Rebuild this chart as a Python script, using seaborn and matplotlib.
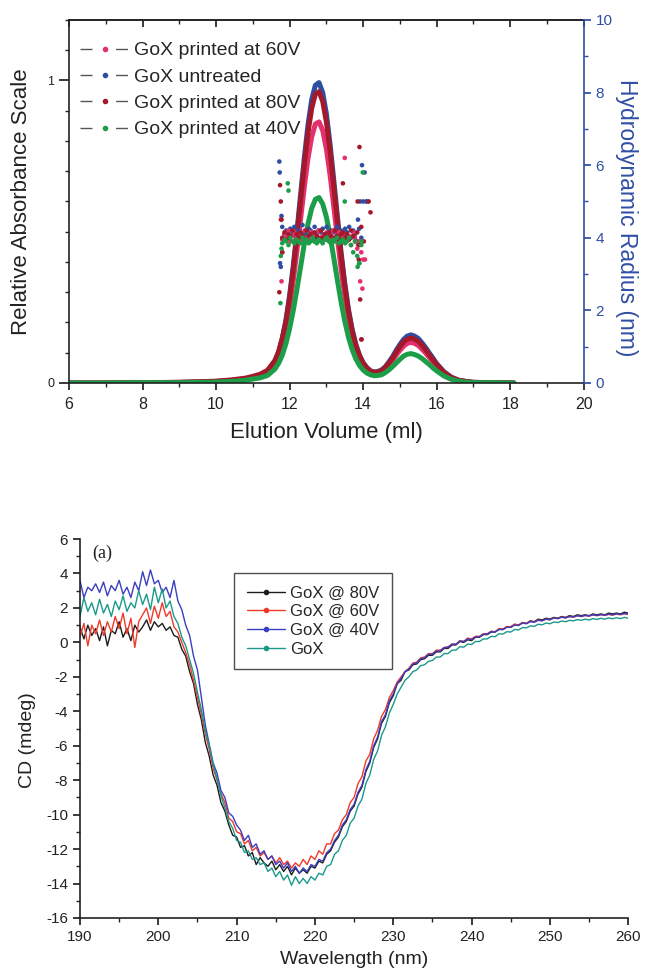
import numpy as np
import pandas as pd
import seaborn as sns
import matplotlib
matplotlib.use("Agg")
import matplotlib.pyplot as plt
from matplotlib.lines import Line2D
from matplotlib.ticker import MultipleLocator, FixedLocator

sns.set_theme(style="ticks")
plt.rcParams["font.family"] = ["Liberation Sans", "DejaVu Sans"]
plt.rcParams["axes.unicode_minus"] = False

# ---------------- top panel: SEC elution profiles ----------------
elution_ml = [6.0, 7.0, 8.0, 9.0, 9.5, 10.0, 10.4, 10.8, 11.0, 11.2, 11.4, 11.6,
              11.7, 11.8, 11.9, 12.0, 12.1, 12.2, 12.3, 12.4, 12.5, 12.6, 12.7, 12.8,
              12.9, 13.0, 13.1, 13.2, 13.3, 13.4, 13.5, 13.6, 13.7, 13.8, 13.9, 14.0,
              14.1, 14.2, 14.3, 14.4, 14.5, 14.6, 14.7, 14.8, 14.9, 15.0, 15.1, 15.2,
              15.3, 15.4, 15.5, 15.6, 15.7, 15.8, 15.9, 16.0, 16.2, 16.4, 16.6, 16.8,
              17.0, 17.5, 18.1]
abs_untreated = [0.000, 0.000, 0.001, 0.002, 0.003, 0.005, 0.008, 0.013, 0.018, 0.025, 0.039, 0.072,
                 0.102, 0.147, 0.208, 0.289, 0.388, 0.502, 0.624, 0.744, 0.853, 0.936, 0.984, 0.993,
                 0.960, 0.890, 0.790, 0.672, 0.550, 0.432, 0.330, 0.244, 0.178, 0.128, 0.092, 0.067,
                 0.051, 0.040, 0.036, 0.038, 0.043, 0.053, 0.069, 0.087, 0.108, 0.127, 0.144, 0.155,
                 0.159, 0.155, 0.147, 0.133, 0.117, 0.099, 0.082, 0.064, 0.037, 0.019, 0.009, 0.005,
                 0.002, 0.001, 0.000]
abs_60v = [0.000, 0.000, 0.001, 0.002, 0.003, 0.005, 0.008, 0.013, 0.018, 0.024, 0.036, 0.065,
           0.091, 0.130, 0.183, 0.253, 0.339, 0.437, 0.543, 0.648, 0.742, 0.813, 0.856, 0.863,
           0.835, 0.774, 0.688, 0.585, 0.480, 0.377, 0.289, 0.214, 0.157, 0.114, 0.082, 0.061,
           0.046, 0.037, 0.034, 0.034, 0.038, 0.047, 0.060, 0.075, 0.092, 0.108, 0.122, 0.131,
           0.134, 0.131, 0.124, 0.112, 0.099, 0.084, 0.069, 0.055, 0.032, 0.017, 0.008, 0.004,
           0.002, 0.001, 0.000]
abs_80v = [0.000, 0.000, 0.001, 0.002, 0.004, 0.006, 0.010, 0.016, 0.022, 0.029, 0.042, 0.074,
           0.103, 0.147, 0.202, 0.281, 0.376, 0.487, 0.605, 0.722, 0.827, 0.907, 0.955, 0.963,
           0.931, 0.863, 0.767, 0.652, 0.534, 0.420, 0.321, 0.237, 0.173, 0.125, 0.090, 0.065,
           0.050, 0.039, 0.036, 0.036, 0.041, 0.051, 0.066, 0.082, 0.102, 0.120, 0.136, 0.145,
           0.149, 0.145, 0.138, 0.125, 0.110, 0.093, 0.077, 0.061, 0.035, 0.018, 0.009, 0.005,
           0.002, 0.001, 0.000]
abs_40v = [0.000, 0.000, 0.001, 0.001, 0.002, 0.003, 0.005, 0.009, 0.013, 0.017, 0.025, 0.046,
           0.065, 0.092, 0.130, 0.180, 0.240, 0.310, 0.385, 0.460, 0.526, 0.577, 0.607, 0.613,
           0.592, 0.549, 0.488, 0.415, 0.340, 0.268, 0.205, 0.152, 0.111, 0.080, 0.058, 0.043,
           0.033, 0.027, 0.024, 0.025, 0.027, 0.034, 0.043, 0.054, 0.066, 0.078, 0.089, 0.095,
           0.097, 0.094, 0.089, 0.081, 0.071, 0.061, 0.050, 0.040, 0.023, 0.012, 0.006, 0.003,
           0.001, 0.001, 0.000]

# hydrodynamic radius (right axis): dense band over the main peak + scattered points
radius_band_ml = [11.80, 11.86, 11.91, 11.97, 12.02, 12.08, 12.13, 12.19, 12.24, 12.30,
                  12.35, 12.41, 12.46, 12.52, 12.57, 12.63, 12.68, 12.74, 12.79, 12.85,
                  12.90, 12.96, 13.01, 13.07, 13.12, 13.18, 13.23, 13.29, 13.34, 13.40,
                  13.45, 13.51, 13.56, 13.62, 13.67, 13.73, 13.78, 13.84, 13.89, 13.95]
rh_band_untreated = [4.3, 4.1, 4.2, 4.0, 4.25, 4.15, 4.3, 4.05, 4.2, 4.1, 4.35, 4.15, 4.05, 4.25,
                     4.2, 4.1, 4.3, 4.0, 4.2, 4.15, 4.25, 4.1, 4.3, 4.05, 4.2, 4.15, 4.0, 4.3,
                     4.1, 4.2, 4.05, 4.25, 4.15, 4.3, 4.0, 4.2, 4.1, 3.9, 4.25, 4.0]
rh_band_80v = [4.0, 4.15, 3.95, 4.1, 4.05, 4.2, 3.9, 4.1, 4.0, 4.15, 4.05, 3.95, 4.2, 4.05,
               4.1, 3.95, 4.15, 4.05, 4.0, 4.2, 4.0, 4.1, 3.95, 4.15, 4.05, 4.0, 4.2, 4.05,
               3.95, 4.1, 4.15, 4.0, 4.1, 3.95, 4.2, 4.05, 3.9, 4.15, 3.8, 4.3]
rh_band_60v = [3.95, 4.1, 4.0, 4.2, 3.9, 4.05, 4.15, 4.0, 4.1, 3.95, 4.05, 4.2, 4.0, 3.95,
               4.15, 4.05, 3.9, 4.1, 4.2, 4.0, 4.05, 3.95, 4.15, 4.0, 4.1, 4.2, 3.95, 4.05,
               4.15, 3.9, 4.0, 4.1, 3.95, 4.05, 3.8, 4.15, 4.0, 3.7, 3.9, 3.6]
rh_band_40v = [3.85, 3.95, 3.9, 3.8, 4.0, 3.9, 3.85, 3.95, 3.9, 3.85, 4.0, 3.9, 3.95, 3.85,
               3.9, 4.0, 3.9, 3.85, 3.95, 3.9, 3.85, 3.95, 4.0, 3.9, 3.85, 3.95, 3.9, 4.0,
               3.85, 3.9, 3.95, 3.85, 3.9, 4.0, 3.8, 3.6, 3.9, 3.5, 3.3, 3.8]
rh_out_ml_untreated = [11.72, 11.73, 11.74, 11.76, 11.78, 13.86, 13.92, 13.97, 14.00, 14.04, 14.08, 14.12]
rh_out_untreated = [6.1, 5.8, 3.3, 3.2, 4.6, 4.5, 5.0, 6.0, 5.0, 5.8, 5.0, 5.0]
rh_out_ml_80v = [11.72, 11.74, 11.76, 11.78, 11.80, 13.45, 13.88, 13.90, 13.92, 13.95, 13.85, 14.02, 14.15, 14.20]
rh_out_80v = [2.5, 5.45, 5.0, 4.5, 3.6, 5.5, 3.4, 6.5, 2.3, 1.2, 5.0, 3.9, 5.0, 4.7]
rh_out_ml_60v = [11.76, 11.78, 11.80, 13.50, 13.86, 13.92, 13.96, 13.98, 14.00, 14.05]
rh_out_60v = [4.5, 2.8, 3.6, 6.2, 3.8, 2.8, 1.2, 2.6, 3.4, 3.4]
rh_out_ml_40v = [11.75, 11.76, 11.78, 11.95, 11.97, 13.50, 13.85, 13.90, 13.95, 13.99]
rh_out_40v = [2.2, 3.5, 3.7, 5.5, 5.3, 5.0, 3.2, 3.3, 3.9, 5.8]

top_labels = ["GoX printed at 60V", "GoX untreated", "GoX printed at 80V", "GoX printed at 40V"]
top_colors = {"GoX printed at 60V": "#e5306e", "GoX untreated": "#2d4ea3",
              "GoX printed at 80V": "#a3192a", "GoX printed at 40V": "#1c9e49"}
draw_order = ["GoX untreated", "GoX printed at 60V", "GoX printed at 80V", "GoX printed at 40V"]

# ---------------- bottom panel: CD spectra ----------------
wavelength_nm = np.arange(190.0, 260.01, 0.5)
cd_80v = [0.9, 0.2, 1.0, 0.4, 0.8, 0.1, 0.9, -0.2, 0.7, 0.5,
          1.2, 0.3, 0.8, 0.1, 1.0, 0.6, 0.9, 1.3, 0.7, 1.2,
          0.9, 1.1, 0.7, 0.9, 0.4, 0.3, -0.4, -0.8, -1.7, -2.4,
          -3.6, -4.5, -5.8, -6.6, -7.7, -8.3, -9.3, -9.8, -10.6, -11.2,
          -11.3, -11.9, -11.8, -12.4, -12.2, -12.9, -12.5, -12.8, -13.0, -12.7,
          -13.2, -12.9, -13.3, -13.0, -13.5, -13.1, -13.4, -13.2, -13.4, -13.0,
          -13.1, -12.7, -12.8, -12.3, -12.1, -11.6, -11.3, -10.7, -10.4, -9.8,
          -9.5, -8.8, -8.4, -7.5, -7.0, -6.1, -5.6, -4.7, -4.3, -3.5,
          -3.1, -2.4, -2.2, -1.7, -1.6, -1.3, -1.25, -1.0, -0.95, -0.75,
          -0.75, -0.55, -0.55, -0.35, -0.35, -0.15, -0.15, 0.05, 0.0, 0.15,
          0.1, 0.3, 0.3, 0.45, 0.45, 0.6, 0.6, 0.75, 0.75, 0.9,
          0.9, 1.05, 1.0, 1.15, 1.1, 1.25, 1.2, 1.35, 1.3, 1.4,
          1.35, 1.45, 1.4, 1.5, 1.45, 1.55, 1.5, 1.6, 1.55, 1.6,
          1.55, 1.65, 1.6, 1.65, 1.6, 1.7, 1.65, 1.7, 1.65, 1.75,
          1.7]
cd_60v = [0.3, 1.1, -0.2, 1.0, 0.5, 1.3, 0.4, 1.2, 0.6, 1.5,
          0.8, 1.7, 0.5, 1.4, -0.3, 1.2, 1.6, 2.0, 1.1, 2.1,
          1.4, 2.3, 1.5, 1.8, 0.9, 0.6, 0.0, -0.6, -1.3, -2.2,
          -3.2, -4.2, -5.3, -6.2, -7.3, -8.0, -8.8, -9.3, -10.2, -10.4,
          -11.0, -11.1, -11.7, -11.5, -12.1, -11.9, -12.4, -12.2, -12.6, -12.4,
          -12.8, -12.5, -12.9, -12.7, -13.1, -12.8, -13.0, -12.6, -12.9, -12.4,
          -12.6, -12.1, -12.3, -11.7, -11.7, -11.1, -10.9, -10.3, -10.0, -9.3,
          -9.0, -8.2, -7.8, -6.9, -6.5, -5.6, -5.1, -4.3, -3.9, -3.2,
          -2.8, -2.3, -2.0, -1.7, -1.5, -1.2, -1.15, -0.9, -0.85, -0.65,
          -0.65, -0.45, -0.45, -0.3, -0.25, -0.1, -0.1, 0.1, 0.05, 0.25,
          0.2, 0.35, 0.35, 0.5, 0.5, 0.65, 0.62, 0.8, 0.78, 0.92,
          0.9, 1.05, 1.0, 1.15, 1.1, 1.22, 1.18, 1.3, 1.25, 1.35,
          1.3, 1.42, 1.38, 1.47, 1.42, 1.5, 1.46, 1.55, 1.5, 1.56,
          1.52, 1.6, 1.55, 1.6, 1.56, 1.62, 1.58, 1.64, 1.6, 1.66,
          1.62]
cd_40v = [3.6, 2.6, 3.2, 3.0, 3.4, 2.9, 3.5, 2.7, 3.3, 3.0,
          3.6, 2.8, 3.2, 2.6, 3.5, 3.0, 4.1, 3.3, 4.2, 3.4,
          3.6, 2.9, 3.2, 2.6, 3.6, 2.4, 1.9, 1.0, 0.4, -0.8,
          -1.6, -3.2, -4.8, -5.9, -7.0, -7.6, -8.6, -9.0, -9.9, -10.1,
          -10.6, -10.9, -11.5, -11.2, -11.9, -11.7, -12.3, -12.1, -12.6, -12.4,
          -12.9, -12.7, -13.1, -12.8, -13.3, -13.0, -13.4, -13.1, -13.3, -12.9,
          -13.0, -12.6, -12.7, -12.2, -12.0, -11.5, -11.2, -10.6, -10.3, -9.7,
          -9.4, -8.7, -8.3, -7.4, -6.9, -6.0, -5.5, -4.6, -4.2, -3.4,
          -3.0, -2.4, -2.1, -1.7, -1.55, -1.25, -1.2, -0.95, -0.9, -0.7,
          -0.7, -0.5, -0.5, -0.3, -0.3, -0.1, -0.12, 0.08, 0.05, 0.2,
          0.15, 0.32, 0.32, 0.48, 0.47, 0.62, 0.6, 0.76, 0.74, 0.88,
          0.87, 1.0, 0.98, 1.12, 1.08, 1.2, 1.17, 1.28, 1.25, 1.35,
          1.32, 1.42, 1.38, 1.46, 1.42, 1.5, 1.47, 1.55, 1.5, 1.57,
          1.53, 1.6, 1.56, 1.62, 1.58, 1.64, 1.6, 1.66, 1.62, 1.68,
          1.65]
cd_gox = [1.5, 2.6, 1.8, 2.3, 1.6, 2.5, 1.7, 2.2, 1.5, 2.4,
          1.9, 2.7, 1.8, 2.3, 2.0, 3.0, 2.2, 2.8, 1.9, 3.2,
          2.3, 3.1, 2.0, 2.4, 1.5, 1.1, 0.3, -0.2, -1.0, -1.8,
          -2.9, -3.9, -5.1, -6.0, -7.1, -7.9, -8.9, -9.6, -10.4, -10.8,
          -11.5, -11.6, -12.2, -12.1, -12.6, -12.5, -12.9, -12.8, -13.3, -13.1,
          -13.6, -13.3, -13.8, -13.5, -14.1, -13.6, -14.0, -13.7, -14.0, -13.6,
          -13.8, -13.4, -13.5, -13.0, -12.9, -12.3, -12.1, -11.5, -11.2, -10.5,
          -10.2, -9.5, -9.1, -8.2, -7.7, -6.8, -6.3, -5.4, -4.9, -4.1,
          -3.6, -3.0, -2.6, -2.2, -2.0, -1.7, -1.6, -1.35, -1.3, -1.1,
          -1.05, -0.85, -0.85, -0.65, -0.65, -0.45, -0.45, -0.25, -0.28, -0.1,
          -0.12, 0.05, 0.05, 0.2, 0.2, 0.35, 0.33, 0.5, 0.48, 0.62,
          0.6, 0.75, 0.72, 0.86, 0.84, 0.96, 0.93, 1.05, 1.02, 1.12,
          1.08, 1.18, 1.15, 1.24, 1.2, 1.28, 1.25, 1.32, 1.28, 1.35,
          1.3, 1.38, 1.33, 1.4, 1.35, 1.42, 1.37, 1.43, 1.38, 1.45,
          1.4]
cd_labels = ["GoX @ 80V", "GoX @ 60V", "GoX @ 40V", "GoX"]
cd_colors = {"GoX @ 80V": "#1c1c1c", "GoX @ 60V": "#f0392b",
             "GoX @ 40V": "#3b3ec0", "GoX": "#1a998b"}

# ---------------- tidy frames ----------------
top_df = pd.concat([
    pd.DataFrame({"ml": elution_ml, "abs": abs_untreated, "sample": "GoX untreated"}),
    pd.DataFrame({"ml": elution_ml, "abs": abs_60v, "sample": "GoX printed at 60V"}),
    pd.DataFrame({"ml": elution_ml, "abs": abs_80v, "sample": "GoX printed at 80V"}),
    pd.DataFrame({"ml": elution_ml, "abs": abs_40v, "sample": "GoX printed at 40V"}),
], ignore_index=True)

rh_df = pd.concat([
    pd.DataFrame({"ml": radius_band_ml + rh_out_ml_untreated, "rh": rh_band_untreated + rh_out_untreated, "sample": "GoX untreated"}),
    pd.DataFrame({"ml": radius_band_ml + rh_out_ml_60v, "rh": rh_band_60v + rh_out_60v, "sample": "GoX printed at 60V"}),
    pd.DataFrame({"ml": radius_band_ml + rh_out_ml_80v, "rh": rh_band_80v + rh_out_80v, "sample": "GoX printed at 80V"}),
    pd.DataFrame({"ml": radius_band_ml + rh_out_ml_40v, "rh": rh_band_40v + rh_out_40v, "sample": "GoX printed at 40V"}),
], ignore_index=True)

cd_df = pd.concat([
    pd.DataFrame({"nm": wavelength_nm, "cd": cd_80v, "sample": "GoX @ 80V"}),
    pd.DataFrame({"nm": wavelength_nm, "cd": cd_60v, "sample": "GoX @ 60V"}),
    pd.DataFrame({"nm": wavelength_nm, "cd": cd_40v, "sample": "GoX @ 40V"}),
    pd.DataFrame({"nm": wavelength_nm, "cd": cd_gox, "sample": "GoX"}),
], ignore_index=True)

fig = plt.figure(figsize=(6.45, 9.74), dpi=100)
fig.patch.set_facecolor("white")
ink = "#222222"

# ================= top panel =================
ax1 = fig.add_axes([0.107, 0.6068, 0.798, 0.3727])
sns.lineplot(data=top_df, x="ml", y="abs", hue="sample", hue_order=draw_order,
             palette=top_colors, lw=3.6, legend=False, ax=ax1, sort=False)
ax1.set_xlim(6, 20)
ax1.set_ylim(0, 1.2)
ax1.xaxis.set_major_locator(MultipleLocator(2))
ax1.xaxis.set_minor_locator(MultipleLocator(1))
ax1.yaxis.set_major_locator(FixedLocator([0, 1]))
ax1.yaxis.set_minor_locator(MultipleLocator(0.1))
ax1.tick_params(axis="x", which="both", direction="out", labelsize=11.5, colors=ink, pad=5)
ax1.tick_params(axis="x", which="major", length=5)
ax1.tick_params(axis="x", which="minor", length=3)
ax1.tick_params(axis="y", which="major", direction="out", length=7, labelsize=9, colors=ink)
ax1.tick_params(axis="y", which="minor", direction="out", length=3)
ax1.set_xlabel("Elution Volume (ml)", fontsize=16, color=ink)
ax1.set_ylabel("Relative Absorbance Scale", fontsize=16, color=ink)
ax1.xaxis.set_label_coords(0.5, -0.107)
ax1.yaxis.set_label_coords(-0.072, 0.5)
for side in ["left", "bottom", "top"]:
    ax1.spines[side].set_color(ink)
    ax1.spines[side].set_linewidth(1.2)
ax1.spines["right"].set_visible(False)

top_sec = ax1.secondary_xaxis("top")
top_sec.xaxis.set_major_locator(MultipleLocator(2))
top_sec.xaxis.set_minor_locator(MultipleLocator(1))
top_sec.tick_params(axis="x", which="both", direction="in", labeltop=False, colors=ink)
top_sec.tick_params(axis="x", which="major", length=5)
top_sec.tick_params(axis="x", which="minor", length=3)
top_sec.spines["top"].set_linewidth(1.2)

ax2 = ax1.twinx()
sns.scatterplot(data=rh_df, x="ml", y="rh", hue="sample", hue_order=draw_order,
                palette=top_colors, s=11, linewidth=0, legend=False, ax=ax2)
ax2.set_ylim(0, 10)
ax2.yaxis.set_major_locator(MultipleLocator(2))
ax2.yaxis.set_minor_locator(MultipleLocator(1))
blue = "#2f4ea5"
ax2.tick_params(axis="y", which="both", direction="out", colors=blue, labelsize=11)
ax2.tick_params(axis="y", which="major", length=5)
ax2.tick_params(axis="y", which="minor", length=3)
ax2.set_ylabel("Hydrodynamic Radius (nm)", fontsize=16.5, color=blue, rotation=270)
ax2.yaxis.set_label_coords(1.106, 0.455)
for side in ["left", "bottom", "top"]:
    ax2.spines[side].set_visible(False)
ax2.spines["right"].set_color(blue)
ax2.spines["right"].set_linewidth(1.2)

handles = [Line2D([0], [0], color="#555555", lw=1.0, linestyle=(0, (8.6, 17)),
                  marker="o", markersize=3, markerfacecolor=top_colors[lab],
                  markeredgecolor=top_colors[lab]) for lab in top_labels]
ax1.legend(handles, top_labels, loc="upper left", bbox_to_anchor=(0.021, 0.94),
           frameon=False, fontsize=14, handlelength=2.6, handletextpad=0.2,
           labelspacing=0.45, borderaxespad=0, borderpad=0, numpoints=1)

# ================= bottom panel =================
ax3 = fig.add_axes([0.124, 0.0575, 0.850, 0.3891])
sns.lineplot(data=cd_df, x="nm", y="cd", hue="sample", hue_order=cd_labels,
             palette=cd_colors, lw=1.0, legend=False, ax=ax3, sort=False)
ax3.set_xlim(190, 260)
ax3.set_ylim(-16, 6)
ax3.xaxis.set_major_locator(MultipleLocator(10))
ax3.xaxis.set_minor_locator(MultipleLocator(5))
ax3.yaxis.set_major_locator(MultipleLocator(2))
ax3.yaxis.set_minor_locator(MultipleLocator(1))
ax3.tick_params(which="both", direction="out", labelsize=11, colors=ink)
ax3.tick_params(which="major", length=5)
ax3.tick_params(which="minor", length=3)
sns.despine(ax=ax3)
for side in ["left", "bottom"]:
    ax3.spines[side].set_color(ink)
    ax3.spines[side].set_linewidth(1.2)
ax3.set_xlabel("Wavelength (nm)", fontsize=14, color=ink)
ax3.set_ylabel("CD (mdeg)", fontsize=14, color=ink)
ax3.xaxis.set_label_coords(0.5, -0.088)
ax3.yaxis.set_label_coords(-0.080, 0.47)
ax3.text(0.022, 0.963, "(a)", transform=ax3.transAxes, fontsize=13,
         family=["Liberation Serif", "DejaVu Serif"], va="center", ha="left", color=ink)

cd_handles = [Line2D([0], [0], color=cd_colors[lab], lw=1.0, marker="o", markersize=3)
              for lab in cd_labels]
leg = ax3.legend(cd_handles, cd_labels, loc="upper left", bbox_to_anchor=(0.281, 0.910),
                 borderaxespad=0, fontsize=12, handlelength=2.3, handletextpad=0.3,
                 labelspacing=0.22, borderpad=0.75, fancybox=False, numpoints=1)
leg.get_frame().set_edgecolor(ink)
leg.get_frame().set_linewidth(1.0)

fig.savefig("out.png", dpi=100, facecolor="white")
